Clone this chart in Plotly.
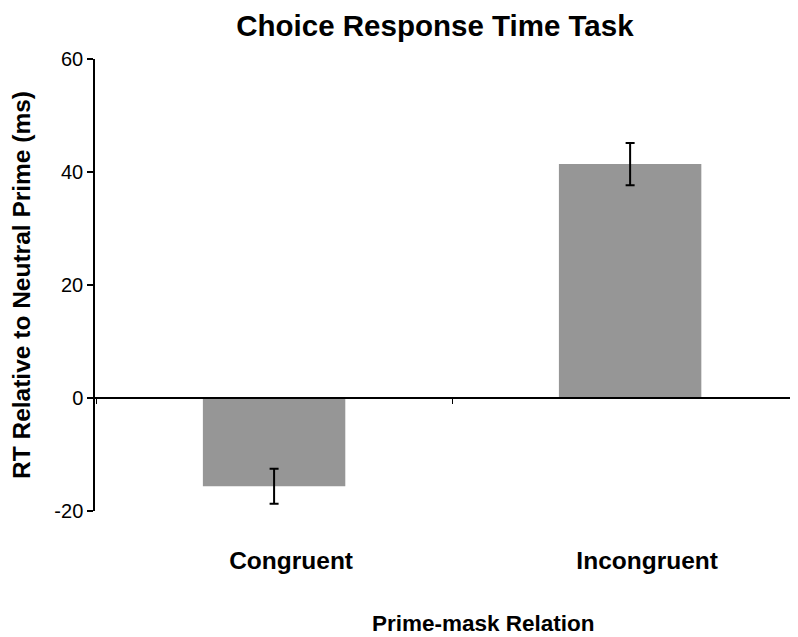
import plotly.graph_objects as go

categories = ["Congruent", "Incongruent"]
rt_values = [-15.6, 41.4]
rt_errors = [3.1, 3.75]
y_tick_vals = [-20, 0, 20, 40, 60]
y_tick_text = ["-20", "0", "20", "40", "60"]
x_title = "Prime-mask Relation"

FONT = "Liberation Sans, Arial, Helvetica, sans-serif"

fig = go.Figure()
fig.add_trace(go.Bar(
    x=categories,
    y=rt_values,
    width=0.40,
    marker=dict(color="#969696", line=dict(width=0)),
    error_y=dict(type="data", array=rt_errors, visible=True,
                 color="black", thickness=2, width=4.5),
    showlegend=False,
))

fig.update_layout(
    width=798, height=637,
    margin=dict(l=87, r=0, t=51, b=134, autoexpand=False),
    paper_bgcolor="white", plot_bgcolor="white",
    font=dict(family=FONT, color="black"),
    title=dict(text="<b>Choice Response Time Task</b>",
               x=0.535, xanchor="center", xref="container",
               y=0.973, yanchor="middle", yref="container",
               font=dict(size=29.5, family=FONT)),
    bargap=0.6,
    annotations=[dict(text="<b>" + x_title + "</b>", xref="paper", yref="paper",
                      x=0.546, y=-0.248, xanchor="center", yanchor="middle",
                      showarrow=False, font=dict(size=22.5, family=FONT))],
)

fig.update_xaxes(
    type="category",
    range=[-0.503, 1.494],
    anchor="free", position=0.25,
    automargin=False,
    showline=True, linecolor="black", linewidth=1.5,
    ticks="outside", tickson="boundaries", ticklen=5, tickwidth=1,
    tickcolor="black",
    showgrid=False, zeroline=False,
    tickfont=dict(size=24.5, family=FONT),
    ticklabelstandoff=141, ticklabelshift=17,
    tickprefix="<b>", ticksuffix="</b>",
)

fig.update_yaxes(
    range=[-20, 60],
    tickvals=y_tick_vals, ticktext=y_tick_text,
    automargin=False,
    showline=True, linecolor="black", linewidth=1.5,
    ticks="outside", ticklen=6, tickwidth=1.5, tickcolor="black",
    showgrid=False, zeroline=False,
    tickfont=dict(size=20, family=FONT),
    title=dict(text="<b>RT Relative to Neutral Prime (ms)</b>",
               font=dict(size=24.5, family=FONT), standoff=20),
)

fig.write_html("out.html")
